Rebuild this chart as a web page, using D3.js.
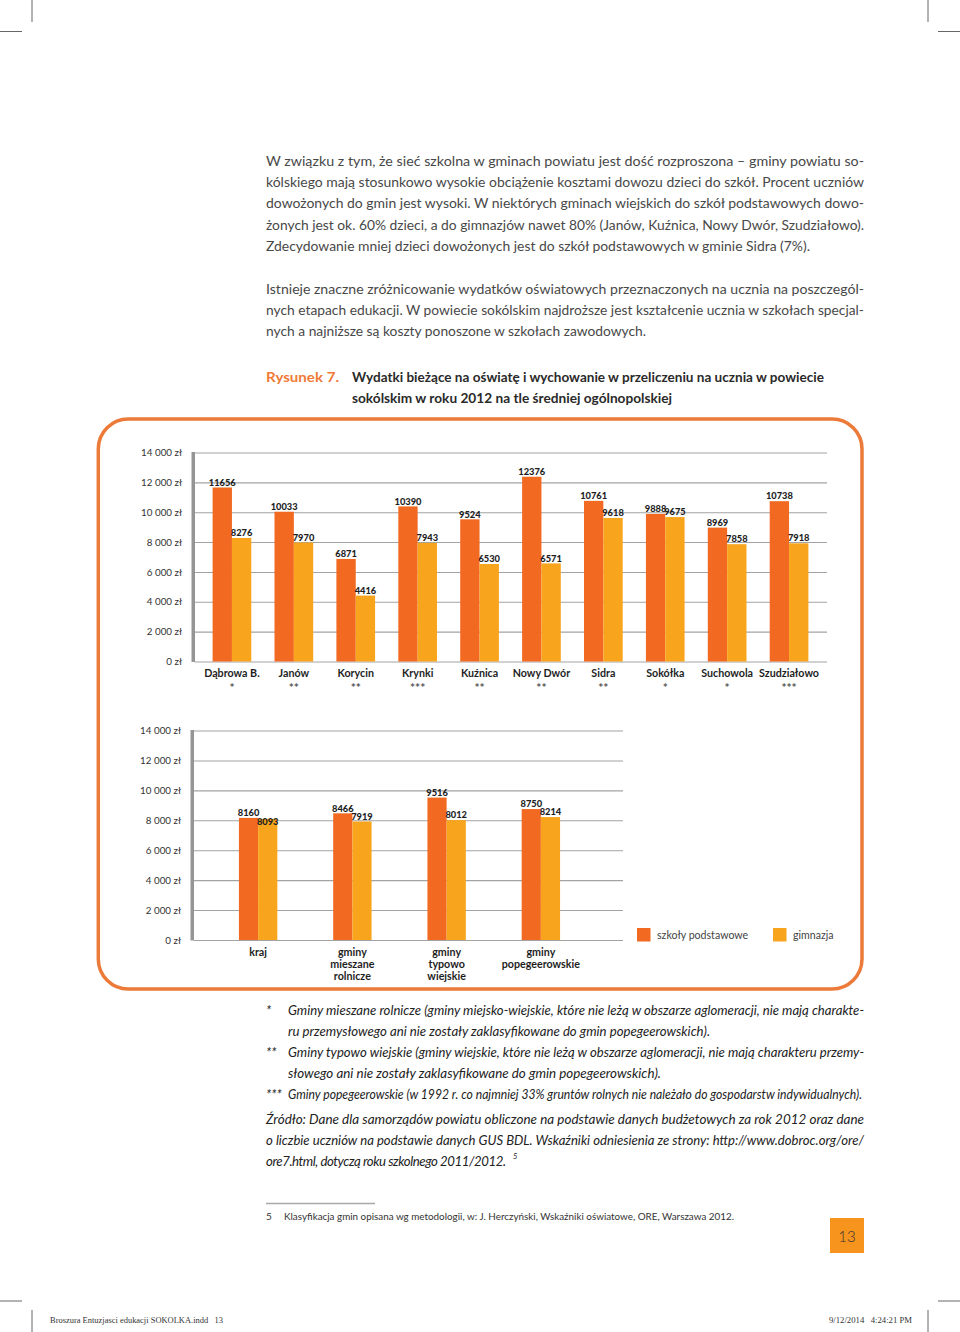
<!DOCTYPE html>
<html>
<head>
<meta charset="utf-8">
<script src="https://cdn.jsdelivr.net/npm/d3@7"></script>
<style>
  html, body { margin: 0; padding: 0; background: #fff; }
  svg { display: block; }
</style>
</head>
<body>
<svg id="page" width="960" height="1332"></svg>
<script>
// ---------------- DATA ----------------
const categoriesTop = ["Dąbrowa B.", "Janów", "Korycin", "Krynki", "Kuźnica", "Nowy Dwór", "Sidra", "Sokółka", "Suchowola", "Szudziałowo"];
const gminaTypesTop = ["*", "**", "**", "***", "**", "**", "**", "*", "*", "***"];
const podstawoweTop = [11656, 10033, 6871, 10390, 9524, 12376, 10761, 9888, 8969, 10738];
const gimnazjaTop   = [8276, 7970, 4416, 7943, 6530, 6571, 9618, 9675, 7858, 7918];

const categoriesBottom = ["kraj", "gminy mieszane rolnicze", "gminy typowo wiejskie", "gminy popegeerowskie"];
const categoryLinesBottom = [["kraj"], ["gminy", "mieszane", "rolnicze"], ["gminy", "typowo", "wiejskie"], ["gminy", "popegeerowskie"]];
const podstawoweBottom = [8160, 8466, 9516, 8750];
const gimnazjaBottom   = [8093, 7919, 8012, 8214];

const seriesNames = ["szkoły podstawowe", "gimnazja"];
const tickValues = [0, 2000, 4000, 6000, 8000, 10000, 12000, 14000];
const tickLabels = ["0 zł", "2 000 zł", "4 000 zł", "6 000 zł", "8 000 zł", "10 000 zł", "12 000 zł", "14 000 zł"];

// ---------------- STYLE ----------------
const ORANGE = "#F26A22";
const YELLOW = "#F8A51D";
const seriesColors = [ORANGE, YELLOW];
const GRID = "#a3a3a3";
const BODY = "Lato, 'Open Sans', sans-serif";

const svg = d3.select("#page");

// ---------------- crop marks ----------------
const marks = svg.append("g").attr("stroke", "#666").attr("stroke-width", 1);
[[32, 0, 32, 22], [0, 31.5, 22, 31.5], [928, 0, 928, 22], [938, 31.5, 960, 31.5],
 [0, 1301, 22, 1301], [32, 1310, 32, 1332], [938, 1301, 960, 1301], [928, 1310, 928, 1332]]
  .forEach(l => marks.append("line").attr("x1", l[0]).attr("y1", l[1]).attr("x2", l[2]).attr("y2", l[3]));

// ---------------- text helpers ----------------
function textLine(g, str, x, y, width, style) {
  const t = g.append("text").attr("x", x).attr("y", y).text(str);
  Object.entries(style || {}).forEach(([k, v]) => t.style(k, v));
  if (width) t.attr("textLength", width).attr("lengthAdjust", "spacingAndGlyphs");
  return t;
}
// fit a line to a width by real letter-spacing (so the layout box matches the drawn text)
function fittedLine(g, str, x, y, width, style) {
  const t = g.append("text").attr("x", x).attr("y", y).text(str);
  Object.entries(style || {}).forEach(([k, v]) => t.style(k, v));
  const w = t.node().getComputedTextLength();
  const n = Math.max(1, str.length - 1);
  t.style("letter-spacing", ((width - w) / n) + "px");
  return t;
}

const bodyStyle = { "font-family": BODY, "font-weight": 400, "font-size": "14px", fill: "#484848" };
const para1 = [
  ["W związku z tym, że sieć szkolna w gminach powiatu jest dość rozproszona – gminy powiatu so-", 598],
  ["kólskiego mają stosunkowo wysokie obciążenie kosztami dowozu dzieci do szkół. Procent uczniów", 598],
  ["dowożonych do gmin jest wysoki. W niektórych gminach wiejskich do szkół podstawowych dowo-", 598],
  ["żonych jest ok. 60% dzieci, a do gimnazjów nawet 80% (Janów, Kuźnica, Nowy Dwór, Szudziałowo).", 598],
  ["Zdecydowanie mniej dzieci dowożonych jest do szkół podstawowych w gminie Sidra (7%).", 544]
];
const para2 = [
  ["Istnieje znaczne zróżnicowanie wydatków oświatowych przeznaczonych na ucznia na poszczegól-", 598],
  ["nych etapach edukacji. W powiecie sokólskim najdroższe jest kształcenie ucznia w szkołach specjal-", 598],
  ["nych a najniższe są koszty ponoszone w szkołach zawodowych.", 380]
];
const tg = svg.append("g");
para1.forEach((l, i) => textLine(tg, l[0], 266, 166 + i * 21.2, l[1], bodyStyle));
para2.forEach((l, i) => textLine(tg, l[0], 266, 293.8 + i * 21.2, l[1], bodyStyle));

// caption
textLine(tg, "Rysunek 7.", 266, 382, 73, { "font-family": BODY, "font-weight": 700, "font-size": "14px", fill: "#F07A36" });
const capStyle = { "font-family": BODY, "font-weight": 700, "font-size": "13px", fill: "#2a2a2a" };
textLine(tg, "Wydatki bieżące na oświatę i wychowanie  w przeliczeniu na ucznia w powiecie", 352, 382, 472, capStyle);
textLine(tg, "sokólskim w roku 2012 na tle średniej ogólnopolskiej", 352, 403, 320, capStyle);

// ---------------- chart frame ----------------
svg.append("rect").attr("x", 98.3).attr("y", 419).attr("width", 763.7).attr("height", 570)
  .attr("rx", 30).attr("ry", 30).attr("fill", "none").attr("stroke", "#EC7B3A").attr("stroke-width", 3.5);

// ---------------- chart drawer ----------------
function drawChart(cfg) {
  const g = svg.append("g");
  const y = d3.scaleLinear().domain([0, 14000]).range([cfg.y0, cfg.y1]);
  const x = d3.scaleBand().domain(cfg.categories).range(cfg.xRange).paddingInner(0).paddingOuter(0);
  const xs = d3.scaleBand().domain([0, 1]).range([0, x.bandwidth()]).paddingInner(0).paddingOuter(cfg.subPad);

  // gridlines + tick labels via axis
  const axis = d3.axisLeft(y).tickValues(tickValues)
    .tickFormat(d => tickLabels[tickValues.indexOf(d)])
    .tickSize(-(cfg.gridEnd - cfg.axisX)).tickPadding(13);
  const ag = g.append("g").attr("transform", `translate(${cfg.axisX},0)`).call(axis);
  ag.select(".domain").remove();
  ag.selectAll(".tick line").attr("stroke", GRID).attr("stroke-width", 1.1);
  ag.selectAll(".tick text").style("font-family", BODY).style("font-size", "9.8px")
    .style("font-weight", 400).attr("fill", "#333");

  // thick vertical axis bar
  g.append("rect").attr("x", cfg.axisX - 3.5).attr("y", y(14000) - 0.5).attr("width", 3.5)
    .attr("height", y(0) - y(14000) + 1).attr("fill", "#959595");

  // bars
  const series = [cfg.podstawowe, cfg.gimnazja];
  series.forEach((vals, s) => {
    g.append("g").selectAll("rect").data(vals).join("rect")
      .attr("x", (d, i) => x(cfg.categories[i]) + xs(s))
      .attr("y", d => y(d))
      .attr("width", xs.bandwidth())
      .attr("height", d => y(0) - y(d))
      .attr("fill", seriesColors[s]);
  });

  // value labels
  series.forEach((vals, s) => {
    g.append("g").selectAll("text").data(vals).join("text")
      .attr("x", (d, i) => x(cfg.categories[i]) + xs(s) + xs.bandwidth() / 2)
      .attr("y", (d, i) => {
        const top = y(d);
        if (s === 1 && Math.abs(top - y(cfg.podstawowe[i])) < 2) return top + 6.5;
        return top - 1.8;
      })
      .attr("text-anchor", "middle")
      .style("font-family", BODY).style("font-weight", 900).style("font-size", "9.3px")
      .attr("fill", "#1e1e1e")
      .text(d => d);
  });

  // category labels
  cfg.categories.forEach((c, i) => {
    const cx = x(c) + x.bandwidth() / 2;
    cfg.labelLines[i].forEach((line, j) => {
      const star = cfg.starLine && j === 1;
      g.append("text").attr("x", cx).attr("y", y(0) + 15.5 + j * 12.1 + (star ? 2.5 : 0))
        .attr("text-anchor", "middle")
        .style("font-family", BODY).style("font-weight", 700).style("font-size", star ? "12px" : "10.7px")
        .attr("fill", star ? "#555" : "#1e1e1e")
        .text(line);
    });
  });
  return g;
}

drawChart({
  categories: categoriesTop,
  labelLines: categoriesTop.map((c, i) => [c, gminaTypesTop[i]]),
  starLine: true,
  podstawowe: podstawoweTop, gimnazja: gimnazjaTop,
  y0: 661.5, y1: 452.5, axisX: 195, gridEnd: 827, xRange: [201, 820], subPad: 0.6
});

drawChart({
  categories: categoriesBottom,
  labelLines: categoryLinesBottom,
  starLine: false,
  podstawowe: podstawoweBottom, gimnazja: gimnazjaBottom,
  y0: 940, y1: 730.5, axisX: 194, gridEnd: 623, xRange: [211, 588], subPad: 1.455
});

// legend
const leg = svg.append("g");
const legendX = [637, 773];
seriesNames.forEach((n, i) => {
  leg.append("rect").attr("x", legendX[i]).attr("y", 928).attr("width", 13.5).attr("height", 13.5).attr("fill", seriesColors[i]);
  leg.append("text").attr("x", legendX[i] + 20).attr("y", 939)
    .style("font-family", BODY).style("font-weight", 400).style("font-size", "10.6px").attr("fill", "#444").text(n);
});

// ---------------- footnotes ----------------
const noteStyle = { "font-family": BODY, "font-style": "italic", "font-weight": 400, "font-size": "13.2px", fill: "#222" };
const notes = [
  ["*", "Gminy mieszane rolnicze (gminy miejsko-wiejskie, które nie leżą w obszarze aglomeracji, nie mają charakte-", 576, 1014.5],
  ["", "ru przemysłowego ani nie zostały zaklasyfikowane do gmin popegeerowskich).", 422, 1035.5],
  ["**", "Gminy typowo wiejskie (gminy wiejskie, które nie leżą w obszarze aglomeracji, nie mają charakteru przemy-", 576, 1056.5],
  ["", "słowego ani nie zostały zaklasyfikowane do gmin popegeerowskich).", 373, 1077.5],
  ["***", "Gminy popegeerowskie (w 1992 r. co najmniej 33% gruntów rolnych nie należało do gospodarstw indywidualnych).", 574, 1098.5]
];
notes.forEach(n => {
  if (n[0]) textLine(tg, n[0], 266, n[3], null, noteStyle);
  textLine(tg, n[1], 288, n[3], n[2], noteStyle);
});
const src = [
  ["Źródło: Dane dla samorządów powiatu obliczone na podstawie danych budżetowych za rok 2012 oraz dane", 598, 1123.5],
  ["o liczbie uczniów na podstawie danych GUS BDL. Wskaźniki odniesienia ze strony: http://www.dobroc.org/ore/", 598, 1144.5]
];
src.forEach(s => textLine(tg, s[0], 266, s[2], s[1], noteStyle));
fittedLine(tg, "ore7.html, dotyczą roku szkolnego 2011/2012.", 266, 1165.5, 240, noteStyle);
textLine(tg, "5", 513, 1159, null, Object.assign({}, noteStyle, { "font-size": "7.5px" }));

// footnote rule + footnote 5
svg.append("line").attr("x1", 266).attr("x2", 375).attr("y1", 1203.5).attr("y2", 1203.5).attr("stroke", "#a8a8a8").attr("stroke-width", 1.5);
const fnStyle = { "font-family": BODY, "font-weight": 400, "font-size": "10px", fill: "#333" };
textLine(tg, "5", 266, 1219.5, null, fnStyle);
textLine(tg, "Klasyfikacja gmin opisana wg metodologii, w: J. Herczyński, Wskaźniki oświatowe, ORE, Warszawa 2012.", 284, 1219.5, 450, fnStyle);

// page number
svg.append("rect").attr("x", 830).attr("y", 1218).attr("width", 34).attr("height", 35).attr("fill", "#F7941E");
svg.append("text").attr("x", 847).attr("y", 1241.5).attr("text-anchor", "middle")
  .style("font-family", BODY).style("font-weight", 300).style("font-size", "15px").attr("fill", "#333").text("13");

// footer slug
const footStyle = { "font-family": "'Liberation Serif', 'DejaVu Serif', serif", "font-size": "9px", fill: "#333" };
textLine(tg, "Broszura Entuzjasci edukacji SOKOLKA.indd   13", 50, 1323, 173, footStyle).style("white-space", "pre");
textLine(tg, "9/12/2014   4:24:21 PM", 829, 1323, 83, footStyle).style("white-space", "pre");
</script>
</body>
</html>
